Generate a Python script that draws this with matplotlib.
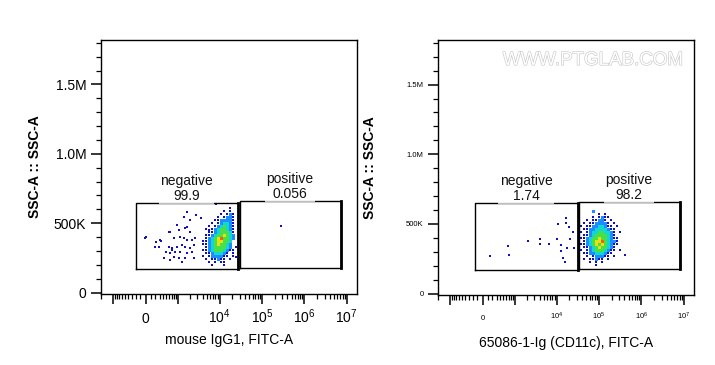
import numpy as np
import matplotlib
matplotlib.use("Agg")
import matplotlib.pyplot as plt
import matplotlib.patheffects as pe
from matplotlib.colors import ListedColormap, BoundaryNorm
from matplotlib.ticker import FixedLocator, FixedFormatter

plt.rcParams['font.family'] = ['Liberation Sans', 'DejaVu Sans']
plt.rcParams['mathtext.default'] = 'regular'

# biex-like FITC axis is drawn with matplotlib's asinh scale
LIN_WIDTH = 358
X_LIM = (-2000, 1.75e7)
Y_LIM = (-10000, 1.82e6)

# density grids are binned in display units of the axes
CELL_U = 0.163
CELL_Y = 21500

# ---- left panel: mouse IgG1 isotype ----
left_neg_gate_x = [-204, 26600]
left_neg_gate_y = [172000, 646000]
left_pos_gate_x = [29600, 7.2e6]
left_pos_gate_y = [179000, 660000]
left_neg_label = ("negative", "99.9")
left_pos_label = ("positive", "0.056")

# sparse events (FITC-A, SSC-A)
left_sparse_x = [0, 204, 325, 275, 408, 690, 573, 1045, 1644, 2692, 8020, 3544,
                 5480, 23800, 1644, 1390, 1940, 930, 1468, 612, 1940, -19, 300,
                 780, 1105, 1390, 1644, 2166, 2556, 182, 573, 690, 930, 1242,
                 1468, 1940, 2420, 500, 612, 827, 1105, 1644, 2166, 780, 1045,
                 1468, 612, 1242, 2420, 274600]
left_sparse_y = [401700, 365900, 373000, 330000, 251000, 308000, 438000, 452000,
                 473000, 560000, 640000, 538000, 452000, 258000, 581000, 545000,
                 524000, 488000, 466000, 438000, 438000, 395000, 380000, 395000,
                 402000, 395000, 380000, 380000, 395000, 330000, 330000, 323000,
                 330000, 344000, 330000, 323000, 344000, 294000, 287000, 294000,
                 294000, 287000, 294000, 258000, 251000, 251000, 237000, 222000,
                 251000, 481000]

# dense core, density level per cell ('.' = no events)
left_core_x0 = 3180
left_core_ytop = 617000
left_core = [
    "..........1..",
    "........1.1..",
    ".......1.121.",
    "......1.1221.",
    ".....1122221.",
    "....1.123321.",
    "...1.1234321.",
    "..1.12344321.",
    "...112344431.",
    "..1123445432.",
    "..1234564432.",
    ".1123455443..",
    ".1123454432..",
    "..123444432.1",
    ".11234443211.",
    "..11233321.1.",
    ".1.1222211.1.",
    "..1.11211.1..",
    "...1.1.11....",
    "....1...1....",
]

# ---- right panel: 65086-1-Ig (CD11c) ----
right_neg_gate_x = [-161, 31250]
right_neg_gate_y = [172000, 653000]
right_pos_gate_x = [33000, 8.0e6]
right_pos_gate_y = [179000, 660000]
right_neg_label = ("negative", "1.74")
right_pos_label = ("positive", "98.2")

right_sparse_x = [10550, 2051, 3955, 3955, 6460, 9990, 12390, 12390, 650, 730,
                  139, 16290, 16290, 19190, 23800, 20230, 17180, 25170, 13830,
                  15430, 401700]
right_sparse_y = [502000, 380000, 395000, 359000, 359000, 395000, 352000, 308000,
                  344000, 280000, 273000, 545000, 509000, 481000, 445000, 395000,
                  330000, 330000, 258000, 230000, 280000]

right_core_x0 = 34900
right_core_ytop = 602600
right_core = [
    "....2.........",
    "......1.1.....",
    "....1.1211....",
    "..1.11221.1...",
    ".1.1122221.1..",
    "1.112233211.1.",
    ".11223333211..",
    "1.1233443321.1",
    ".11234444321..",
    "1123445443211.",
    ".123455643221.",
    "1123454543211.",
    ".11234544321..",
    "1.1234443211.1",
    ".1122333211...",
    "..1.122211.1..",
    ".1.11211.1....",
    "...1.1.1......",
    ".....1........",
]

DENSITY_COLORS = ['#1010c0', '#1c8cff', '#10d8d0', '#48e048', '#e6e010', '#ff5a10']
density_cmap = ListedColormap(DENSITY_COLORS)
density_norm = BoundaryNorm(np.arange(0.5, len(DENSITY_COLORS) + 1), len(DENSITY_COLORS))

y_major = [0, 500000, 1000000, 1500000]
y_major_labels = ['0', '500K', '1.0M', '1.5M']
y_minor = [i * 100000 for i in range(19) if i % 5]

x_major = [-1000, 0, 1000, 1e4, 1e5, 1e6, 1e7]
x_major_labels = ['', '0', '', r'$10^{4}$', r'$10^{5}$', r'$10^{6}$', r'$10^{7}$']
x_minor = ([-m * 100 for m in range(1, 10)] + [-2000]
           + [m * 10 ** e for e in range(2, 7) for m in range(1, 10)
              if not (m == 1 and e > 2)])


def draw_density(ax, rows, x_left, y_top):
    ncol = max(len(r) for r in rows)
    levels = np.array([[0 if ch == '.' else int(ch) for ch in r.ljust(ncol, '.')]
                       for r in rows], dtype=float)
    u_edges = np.arcsinh(x_left / LIN_WIDTH) + CELL_U * np.arange(ncol + 1)
    x_edges = LIN_WIDTH * np.sinh(u_edges)
    y_edges = y_top - CELL_Y * np.arange(len(rows) + 1)
    # dense cells as solid bins
    dense = np.ma.masked_less(levels, 2)
    ax.pcolormesh(x_edges, y_edges, dense, cmap=density_cmap, norm=density_norm,
                  zorder=2, linewidth=0, antialiased=False)
    # single-event cells as small dots
    rr, cc = np.nonzero(levels == 1)
    xc = LIN_WIDTH * np.sinh(u_edges[cc] + CELL_U / 2)
    yc = y_top - CELL_Y * (rr + 0.5)
    ax.scatter(xc, yc, s=1.8, marker='s', c=DENSITY_COLORS[0], linewidths=0, zorder=2)


def draw_gate(ax, gx, gy, label, fontsize):
    ax.plot([gx[0], gx[1], gx[1], gx[0], gx[0]], [gy[0], gy[0], gy[1], gy[1], gy[0]],
            color='black', lw=1.0, zorder=3)
    ax.plot([gx[1], gx[1]], gy, color='black', lw=2.0, zorder=3)
    u = np.arcsinh(np.array(gx) / LIN_WIDTH)
    xc = LIN_WIDTH * np.sinh(u.mean())
    ax.text(xc, gy[1], label[0] + "\n" + label[1], ha='center', va='bottom',
            fontsize=fontsize, linespacing=1.05, color='#111111', zorder=4,
            bbox=dict(facecolor='white', edgecolor='none', alpha=0.75, pad=1.0))


def setup_axes(ax, tick_size, xpad, xlabel):
    ax.set_xscale('asinh', linear_width=LIN_WIDTH)
    ax.set_xlim(*X_LIM)
    ax.set_ylim(*Y_LIM)
    ax.xaxis.set_major_locator(FixedLocator(x_major))
    ax.xaxis.set_major_formatter(FixedFormatter(x_major_labels))
    ax.xaxis.set_minor_locator(FixedLocator(x_minor))
    ax.xaxis.set_minor_formatter(FixedFormatter([''] * len(x_minor)))
    ax.yaxis.set_major_locator(FixedLocator(y_major))
    ax.yaxis.set_major_formatter(FixedFormatter(y_major_labels))
    ax.yaxis.set_minor_locator(FixedLocator(y_minor))
    ax.tick_params(axis='both', which='major', direction='out', length=7, width=1.1,
                   labelsize=tick_size, colors='black')
    ax.tick_params(axis='both', which='minor', direction='out', length=3.5, width=0.9)
    ax.tick_params(axis='x', which='major', pad=xpad)
    ax.tick_params(axis='y', which='major', pad=3.5)
    # align "0" and "10^n" on a common baseline
    for t in ax.xaxis.get_major_ticks():
        t.label1.set_verticalalignment('baseline')
    for s in ax.spines.values():
        s.set_linewidth(1.0)
    ax.set_ylabel('SSC-A :: SSC-A', fontsize=10, fontweight='bold')
    ax.set_xlabel(xlabel, fontsize=10)


fig = plt.figure(figsize=(7.15, 3.65), dpi=100)
ax1 = fig.add_axes([101 / 715, 71 / 365, 256 / 715, 254 / 365])
ax2 = fig.add_axes([438 / 715, 70 / 365, 256 / 715, 255 / 365])

setup_axes(ax1, 10, 14, 'mouse IgG1, FITC-A')
setup_axes(ax2, 5.5, 11, '65086-1-Ig (CD11c), FITC-A')
ax1.yaxis.set_label_coords(-0.23, 0.5)
ax2.yaxis.set_label_coords(-0.238, 0.5)
ax1.xaxis.set_label_coords(0.5, -0.155)
ax2.xaxis.set_label_coords(0.5, -0.16)

draw_density(ax1, left_core, left_core_x0, left_core_ytop)
ax1.scatter(left_sparse_x, left_sparse_y, s=1.6, marker='s', c=DENSITY_COLORS[0],
            linewidths=0, zorder=2)
draw_gate(ax1, left_neg_gate_x, left_neg_gate_y, left_neg_label, 10)
draw_gate(ax1, left_pos_gate_x, left_pos_gate_y, left_pos_label, 10)

draw_density(ax2, right_core, right_core_x0, right_core_ytop)
ax2.scatter(right_sparse_x, right_sparse_y, s=1.6, marker='s', c=DENSITY_COLORS[0],
            linewidths=0, zorder=2)
draw_gate(ax2, right_neg_gate_x, right_neg_gate_y, right_neg_label, 10)
draw_gate(ax2, right_pos_gate_x, right_pos_gate_y, right_pos_label, 10)

ax2.text(0.605, 0.92, 'WWW.PTGLAB.COM', transform=ax2.transAxes, ha='center',
         va='center', fontsize=13.5, color='white', zorder=5,
         path_effects=[pe.withStroke(linewidth=0.9, foreground='#c8c8c8')])

fig.savefig('out.png', dpi=100)
